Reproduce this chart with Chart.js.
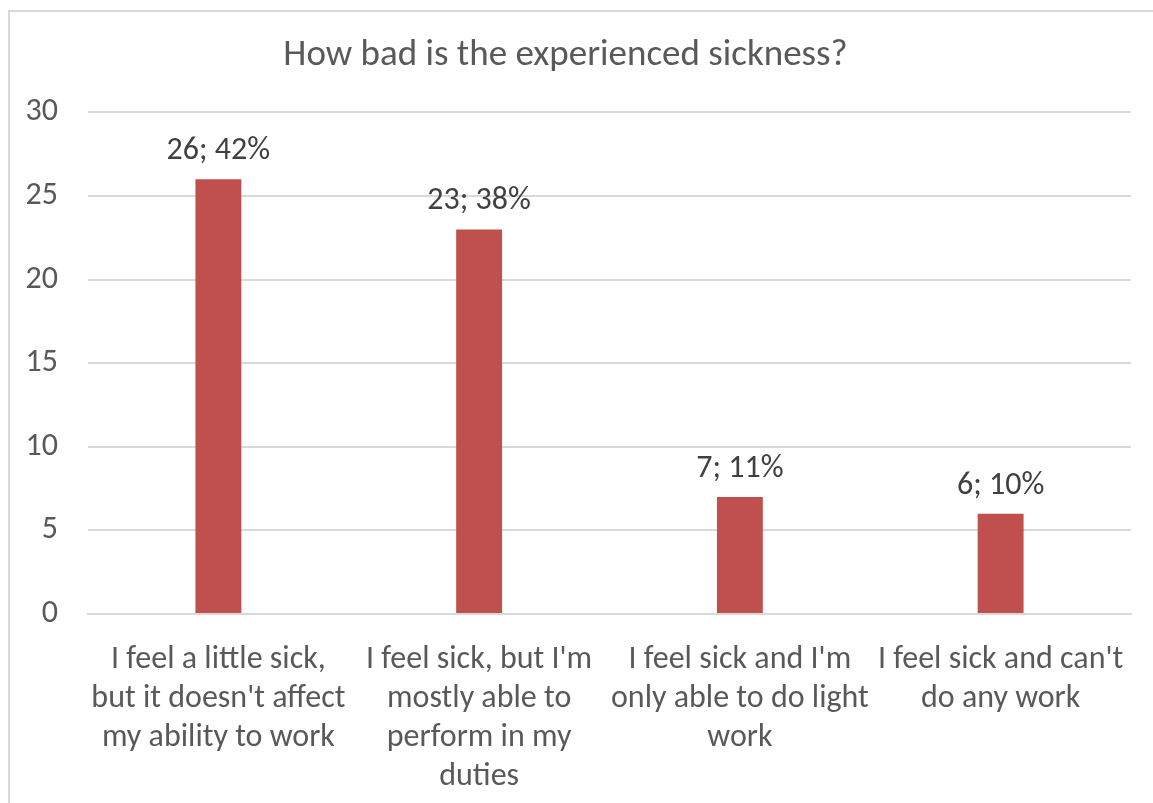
<!DOCTYPE html>
<html>
<head>
<meta charset="utf-8">
<script src="https://cdn.jsdelivr.net/npm/chart.js@4"></script>
<style>
  html, body { margin: 0; padding: 0; background: #fff; overflow: hidden; }
  #frame { position: absolute; left: 8px; top: 10px; width: 1200px; height: 900px; border: 2px solid #d9d9d9; box-sizing: border-box; }
  #wrap { position: absolute; left: 0; top: 0; width: 1153px; height: 803px; }
</style>
</head>
<body>
<div id="frame"></div>
<div id="wrap"><canvas id="chart" width="1153" height="803"></canvas></div>
<script>
const categories = [
  ["I feel a little sick,", "but it doesn't affect", "my ability to work"],
  ["I feel sick, but I'm", "mostly able to", "perform in my", "duties"],
  ["I feel sick and I'm", "only able to do light", "work"],
  ["I feel sick and can't", "do any work"]
];
const counts = [26, 23, 7, 6];
const percents = [42, 38, 11, 10];
const yTicks = [0, 5, 10, 15, 20, 25, 30];

const fontFam = "Carlito, Lato, 'Liberation Sans', sans-serif";

// labels like "26; 42%" above each bar
const barLabels = {
  id: 'barLabels',
  afterDatasetsDraw(chart) {
    const ctx = chart.ctx;
    const meta = chart.getDatasetMeta(0);
    ctx.save();
    ctx.font = "32px " + fontFam;
    ctx.fillStyle = '#404040';
    ctx.textAlign = 'center';
    ctx.textBaseline = 'bottom';
    meta.data.forEach((bar, i) => {
      ctx.fillText(counts[i] + '; ' + percents[i] + '%', bar.x, bar.y - 12);
    });
    ctx.restore();
  }
};

const ctx = document.getElementById('chart');
new Chart(ctx, {
  type: 'bar',
  data: {
    labels: categories,
    datasets: [{
      data: counts,
      backgroundColor: '#C0504D',
      borderWidth: 0,
      barPercentage: 0.176,
      categoryPercentage: 1
    }]
  },
  options: {
    responsive: false,
    animation: false,
    layout: { padding: { left: 0, right: 22, top: 0, bottom: 0 } },
    plugins: {
      legend: { display: false },
      tooltip: { enabled: false },
      title: {
        display: true,
        text: 'How bad is the experienced sickness?',
        color: '#595959',
        font: { family: fontFam, size: 37, weight: 'normal', lineHeight: 1.2 },
        padding: { top: 34, bottom: 34 }
      }
    },
    scales: {
      x: {
        grid: { display: false },
        border: { display: true, color: '#d9d9d9', width: 2 },
        ticks: {
          color: '#595959',
          font: { family: fontFam, size: 32, lineHeight: 1.22 },
          padding: 18,
          maxRotation: 0,
          autoSkip: false
        },
        afterFit(scale) { scale.height = 189; }
      },
      y: {
        min: 0,
        max: 30,
        afterBuildTicks(scale) { scale.ticks = yTicks.map(v => ({ value: v })); },
        grid: { color: '#d9d9d9', lineWidth: 2, drawTicks: false },
        border: { display: false },
        ticks: {
          color: '#595959',
          font: { family: fontFam, size: 32 },
          padding: 30
        },
        afterFit(scale) { scale.width = 88; }
      }
    }
  },
  plugins: [barLabels]
});
</script>
</body>
</html>
